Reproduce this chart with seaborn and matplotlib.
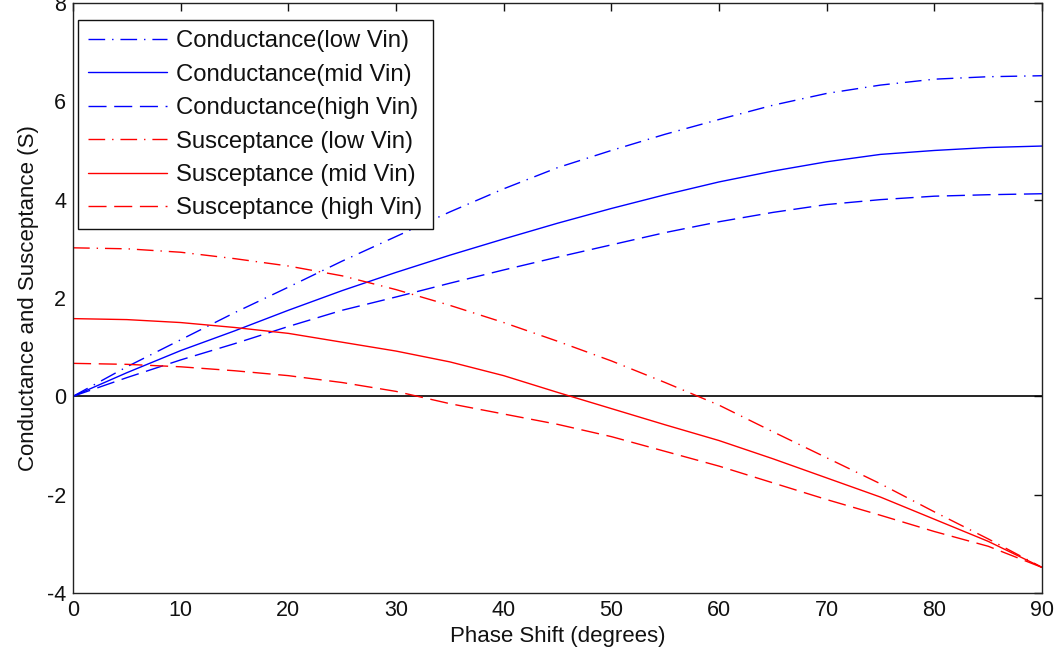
import numpy as np
import pandas as pd
import matplotlib
matplotlib.use("Agg")
import matplotlib.pyplot as plt
import seaborn as sns

# Phase shift samples (degrees)
phase = [0, 5, 10, 15, 20, 25, 30, 35, 40, 45, 50, 55, 60, 65, 70, 75, 80, 85, 90]

# Conductance (S)
g_low = [0.00, 0.60, 1.15, 1.70, 2.22, 2.75, 3.25, 3.75, 4.22, 4.65, 5.00, 5.33, 5.63, 5.92, 6.16, 6.33, 6.45, 6.50, 6.52]
g_mid = [0.00, 0.48, 0.93, 1.33, 1.75, 2.15, 2.52, 2.87, 3.20, 3.52, 3.82, 4.10, 4.36, 4.58, 4.77, 4.92, 5.00, 5.06, 5.09]
g_high = [0.00, 0.38, 0.74, 1.07, 1.42, 1.75, 2.02, 2.30, 2.57, 2.83, 3.08, 3.33, 3.55, 3.74, 3.90, 4.00, 4.07, 4.10, 4.12]

# Susceptance (S)
b_low = [3.02, 3.00, 2.93, 2.80, 2.65, 2.45, 2.17, 1.85, 1.50, 1.12, 0.72, 0.28, -0.18, -0.72, -1.25, -1.78, -2.35, -2.90, -3.48]
b_mid = [1.58, 1.56, 1.50, 1.40, 1.28, 1.10, 0.92, 0.70, 0.42, 0.08, -0.25, -0.58, -0.90, -1.27, -1.66, -2.05, -2.50, -2.95, -3.48]
b_high = [0.67, 0.65, 0.60, 0.52, 0.42, 0.28, 0.10, -0.15, -0.36, -0.57, -0.82, -1.12, -1.42, -1.76, -2.10, -2.42, -2.75, -3.05, -3.48]

labels = [
    "Conductance(low Vin)", "Conductance(mid Vin)", "Conductance(high Vin)",
    "Susceptance (low Vin)", "Susceptance (mid Vin)", "Susceptance (high Vin)",
]
series = [g_low, g_mid, g_high, b_low, b_mid, b_high]
colors = ["#0000ff"] * 3 + ["#ff0000"] * 3
dash_dot = (0, (12, 5, 1, 5))
dashed = (0, (13, 5.5))
styles = [dash_dot, "-", dashed, dash_dot, "-", dashed]

df = pd.DataFrame({
    "Phase Shift (degrees)": np.tile(phase, len(series)),
    "value": np.concatenate(series),
    "series": np.repeat(labels, len(phase)),
})

sns.set_theme(style="white")
plt.rcParams["font.family"] = ["Liberation Sans", "DejaVu Sans"]
plt.rcParams["axes.edgecolor"] = "#222222"
plt.rcParams["axes.linewidth"] = 1.0
plt.rcParams["axes.unicode_minus"] = False

fig = plt.figure(figsize=(10.57, 6.59), dpi=100)
ax = fig.add_axes([0.0691, 0.1002, 0.9167, 0.8953])

handles = []
for lab, col, ls in zip(labels, colors, styles):
    sub = df[df["series"] == lab]
    sns.lineplot(data=sub, x="Phase Shift (degrees)", y="value", color=col,
                 linewidth=1.0, ax=ax, legend=False)
    line = ax.get_lines()[-1]
    line.set_linestyle(ls)
    line.set_label(lab)
    handles.append(line)

ax.axhline(0, color="black", linewidth=1.2, zorder=1)

ax.set_xlim(0, 90)
ax.set_ylim(-4, 8)
ax.set_xticks(range(0, 91, 10))
ax.set_yticks(range(-4, 9, 2))
ax.tick_params(direction="in", length=6, width=1.0, top=True, right=True,
               labelsize=15.5, pad=5, colors="#111111")

ax.set_xlabel("Phase Shift (degrees)", fontsize=16, color="#111111", labelpad=4)
ax.set_ylabel("Conductance and Susceptance (S)", fontsize=16, color="#111111", labelpad=6)

leg = ax.legend(handles=handles, labels=labels, loc="upper left",
                bbox_to_anchor=(0.005, 0.971), borderaxespad=0,
                fontsize=17.2, frameon=True, fancybox=False, framealpha=1,
                edgecolor="#111111", handlelength=3.3, handletextpad=0.4,
                labelspacing=0.48, borderpad=0.42)
leg.get_frame().set_linewidth(1.0)
for t in leg.get_texts():
    t.set_color("#111111")

fig.savefig("out.png", dpi=100, facecolor="white")
